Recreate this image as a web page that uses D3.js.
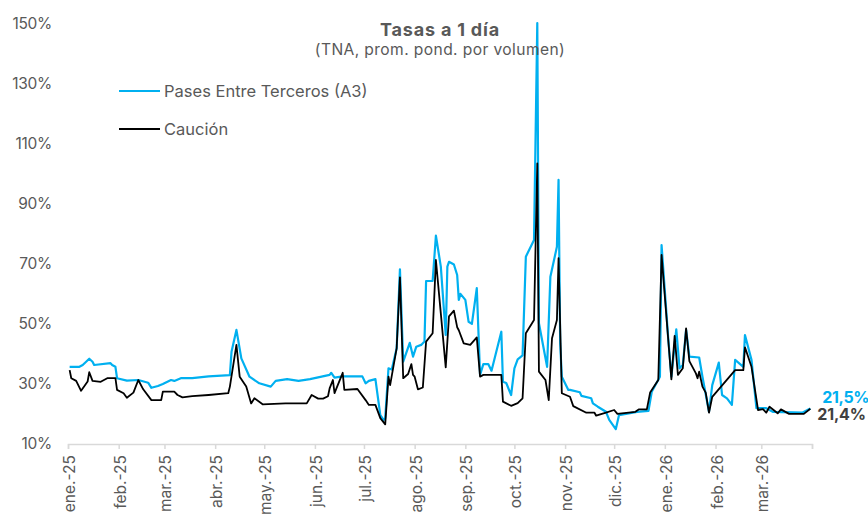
<!DOCTYPE html>
<html>
<head>
<meta charset="utf-8">
<script src="https://cdn.jsdelivr.net/npm/d3@7/dist/d3.min.js"></script>
<style>
  body { margin: 0; background: #fff; }
  svg { display: block; font-family: Inter, "Open Sans", sans-serif; }
</style>
</head>
<body>
<svg id="chart"></svg>
<script>
/**
 * Tasas a 1 dia - pases vs caucion
 */
const width = 868;
const height = 515;

const title = 'Tasas a 1 día';
const subtitle = '(TNA, prom. pond. por volumen)';
const seriesNames = ['Pases Entre Terceros (A3)', 'Caución'];
const colors = ['#00b0f0', '#000000'];

const monthLabels = ['ene.-25', 'feb.-25', 'mar.-25', 'abr.-25', 'may.-25', 'jun.-25', 'jul.-25',
    'ago.-25', 'sep.-25', 'oct.-25', 'nov.-25', 'dic.-25', 'ene.-26', 'feb.-26', 'mar.-26'];
const yTicks = [10, 30, 50, 70, 90, 110, 130, 150];

// Pases Entre Terceros (A3)
const pasesDates = ['2025-01-02', '2025-01-08', '2025-01-10', '2025-01-14', '2025-01-16', '2025-01-17',
    '2025-01-27', '2025-01-28', '2025-01-30', '2025-01-31', '2025-02-06', '2025-02-13', '2025-02-19',
    '2025-02-21', '2025-02-25', '2025-02-28', '2025-03-05', '2025-03-07', '2025-03-11', '2025-03-18',
    '2025-03-28', '2025-04-10', '2025-04-11', '2025-04-14', '2025-04-17', '2025-04-22', '2025-04-28',
    '2025-05-05', '2025-05-08', '2025-05-15', '2025-05-22', '2025-05-29', '2025-06-10', '2025-06-11',
    '2025-06-13', '2025-06-18', '2025-06-30', '2025-07-02', '2025-07-04', '2025-07-08', '2025-07-11',
    '2025-07-13', '2025-07-14', '2025-07-16', '2025-07-18', '2025-07-21', '2025-07-23', '2025-07-25',
    '2025-07-29', '2025-07-31', '2025-08-02', '2025-08-05', '2025-08-07', '2025-08-08', '2025-08-12',
    '2025-08-14', '2025-08-17', '2025-08-20', '2025-08-21', '2025-08-22', '2025-08-25', '2025-08-27',
    '2025-08-28', '2025-08-29', '2025-09-01', '2025-09-03', '2025-09-05', '2025-09-08', '2025-09-10',
    '2025-09-12', '2025-09-15', '2025-09-17', '2025-09-23', '2025-09-24', '2025-09-26', '2025-09-29',
    '2025-10-01', '2025-10-03', '2025-10-06', '2025-10-08', '2025-10-13', '2025-10-15', '2025-10-16',
    '2025-10-21', '2025-10-23', '2025-10-27', '2025-10-28', '2025-10-29', '2025-10-30', '2025-11-03',
    '2025-11-04', '2025-11-10', '2025-11-11', '2025-11-17', '2025-11-18', '2025-11-21', '2025-11-26',
    '2025-11-28', '2025-12-02', '2025-12-04', '2025-12-15', '2025-12-22', '2025-12-24', '2025-12-29',
    '2025-12-30', '2026-01-03', '2026-01-05', '2026-01-08', '2026-01-10', '2026-01-12', '2026-01-14',
    '2026-01-16', '2026-01-22', '2026-01-24', '2026-01-28', '2026-01-30', '2026-02-03', '2026-02-05',
    '2026-02-08', '2026-02-11', '2026-02-13', '2026-02-18', '2026-02-19', '2026-02-23', '2026-02-26',
    '2026-03-04', '2026-03-08', '2026-03-26', '2026-03-31'];
const pasesValues = [35.4, 35.4, 36.0, 38.1, 37.1, 36.0,
    36.6, 36.0, 35.4, 31.6, 30.8, 31.0, 30.1,
    28.4, 29.0, 29.7, 31.0, 30.7, 31.6, 31.6,
    32.2, 32.6, 40.4, 47.7, 38.2, 32.1, 29.9,
    28.8, 30.7, 31.3, 30.7, 31.3, 32.7, 33.4,
    31.8, 32.2, 32.2, 29.9, 30.7, 31.3, 19.3,
    17.7, 18.3, 34.9, 34.5, 41.6, 67.9, 37.1,
    43.4, 38.8, 42.1, 42.7, 43.8, 64.0, 64.0,
    79.1, 68.8, 46.0, 68.8, 70.4, 69.5, 66.0,
    57.7, 59.7, 57.7, 50.4, 49.7, 61.6, 32.7,
    36.3, 36.3, 34.1, 47.1, 30.4, 30.0, 26.0,
    34.9, 37.9, 39.2, 72.1, 77.7, 150.0, 49.9,
    35.4, 65.4, 75.4, 97.7, 43.2, 32.1, 27.7,
    27.7, 26.9, 25.7, 24.9, 23.2, 22.1, 20.4,
    17.7, 14.6, 19.3, 20.4, 20.7, 27.1, 32.1,
    76.0, 45.4, 32.1, 47.9, 34.9, 36.0, 47.7,
    38.8, 38.5, 32.1, 20.4, 29.3, 36.8, 26.0,
    24.9, 22.7, 37.7, 35.4, 46.0, 37.7, 21.6,
    21.6, 20.4, 20.1, 21.5];

// Caucion
const caucionDates = ['2025-01-02', '2025-01-03', '2025-01-06', '2025-01-09', '2025-01-13', '2025-01-14',
    '2025-01-16', '2025-01-21', '2025-01-25', '2025-01-30', '2025-01-31', '2025-02-04', '2025-02-06',
    '2025-02-10', '2025-02-13', '2025-02-16', '2025-02-21', '2025-02-27', '2025-02-28', '2025-03-07',
    '2025-03-09', '2025-03-12', '2025-03-18', '2025-03-28', '2025-04-09', '2025-04-10', '2025-04-14',
    '2025-04-16', '2025-04-20', '2025-04-23', '2025-04-25', '2025-04-30', '2025-05-14', '2025-05-27',
    '2025-05-30', '2025-06-03', '2025-06-06', '2025-06-09', '2025-06-10', '2025-06-12', '2025-06-13',
    '2025-06-18', '2025-06-19', '2025-06-27', '2025-07-02', '2025-07-04', '2025-07-08', '2025-07-11',
    '2025-07-14', '2025-07-16', '2025-07-17', '2025-07-21', '2025-07-23', '2025-07-25', '2025-07-28',
    '2025-07-30', '2025-07-31', '2025-08-01', '2025-08-03', '2025-08-06', '2025-08-08', '2025-08-12',
    '2025-08-14', '2025-08-17', '2025-08-20', '2025-08-22', '2025-08-25', '2025-08-27', '2025-08-28',
    '2025-08-31', '2025-09-04', '2025-09-08', '2025-09-10', '2025-09-12', '2025-09-23', '2025-09-24',
    '2025-09-29', '2025-10-03', '2025-10-06', '2025-10-08', '2025-10-13', '2025-10-15', '2025-10-16',
    '2025-10-20', '2025-10-22', '2025-10-24', '2025-10-27', '2025-10-28', '2025-10-30', '2025-11-04',
    '2025-11-06', '2025-11-14', '2025-11-19', '2025-11-20', '2025-11-26', '2025-12-01', '2025-12-03',
    '2025-12-14', '2025-12-16', '2025-12-21', '2025-12-23', '2025-12-28', '2025-12-30', '2026-01-05',
    '2026-01-07', '2026-01-09', '2026-01-12', '2026-01-14', '2026-01-16', '2026-01-20', '2026-01-21',
    '2026-01-22', '2026-01-24', '2026-01-26', '2026-01-28', '2026-01-30', '2026-02-13', '2026-02-18',
    '2026-02-19', '2026-02-23', '2026-02-27', '2026-03-02', '2026-03-04', '2026-03-06', '2026-03-11',
    '2026-03-13', '2026-03-18', '2026-03-27', '2026-03-31'];
const caucionValues = [34.3, 31.6, 30.7, 27.4, 30.5, 33.6,
    30.7, 30.4, 31.6, 31.6, 27.7, 26.6, 25.1,
    26.8, 31.0, 27.9, 24.3, 24.3, 27.1, 27.1,
    26.0, 25.2, 25.6, 26.0, 26.6, 28.8, 42.7,
    32.1, 28.8, 23.2, 24.9, 22.9, 23.2, 23.2,
    26.0, 24.8, 24.8, 25.6, 28.2, 31.0, 26.6,
    33.4, 27.7, 28.0, 24.3, 22.7, 22.7, 18.3,
    16.2, 32.1, 29.3, 41.6, 65.2, 31.6, 33.0,
    36.3, 32.7, 32.1, 27.9, 28.5, 43.8, 46.6,
    71.0, 53.2, 35.2, 52.2, 54.1, 48.6, 47.6,
    43.2, 42.7, 45.2, 32.1, 32.7, 32.7, 23.8,
    22.4, 23.3, 24.9, 46.6, 51.0, 103.2, 33.8,
    31.0, 24.3, 44.9, 51.0, 71.6, 26.6, 25.4,
    22.3, 20.1, 20.1, 19.1, 20.1, 21.0, 19.7,
    20.4, 21.2, 21.2, 26.8, 31.0, 72.7, 31.2,
    45.7, 32.7, 34.9, 48.2, 37.3, 33.2, 31.6,
    33.8, 28.8, 26.8, 20.1, 25.4, 34.3, 34.3,
    41.9, 35.4, 21.0, 21.3, 20.1, 22.1, 19.9,
    21.2, 19.7, 19.7, 21.4];

const endLabels = ['21,5%', '21,4%'];

const parseDate = d3.timeParse('%Y-%m-%d');
const series = [
    pasesDates.map((d, i) => ({ date: parseDate(d), value: pasesValues[i] })),
    caucionDates.map((d, i) => ({ date: parseDate(d), value: caucionValues[i] })),
];

const svg = d3
    .select('#chart')
    .attr('width', width)
    .attr('height', height);

const x = d3
    .scaleTime()
    .domain([new Date(2025, 0, 1), new Date(2026, 3, 1)])
    .range([68, 812]);

const y = d3
    .scaleLinear()
    .domain([10, 150])
    .range([443, 23]);

const textColor = '#595959';

// y labels (no axis line)
svg.selectAll('.ylab')
    .data(yTicks)
    .enter()
    .append('text')
    .attr('class', 'ylab')
    .attr('x', 52)
    .attr('y', (d) => y(d))
    .attr('dy', '0.36em')
    .attr('text-anchor', 'end')
    .style('font-size', '15.5px')
    .style('letter-spacing', '-0.3px')
    .style('fill', textColor)
    .text((d) => d + '%');

// x axis
const monthTicks = d3.timeMonth.range(new Date(2025, 0, 1), new Date(2026, 3, 2));
const xAxis = svg
    .append('g')
    .attr('transform', 'translate(0,' + 444 + ')')
    .call(d3.axisBottom(x).tickValues(monthTicks).tickSize(5).tickFormat(''));
xAxis.select('.domain').attr('stroke', '#d9d9d9').attr('stroke-width', 1.5);
xAxis.selectAll('.tick line').attr('stroke', '#d9d9d9').attr('stroke-width', 1.5);

svg.selectAll('.xlab')
    .data(monthLabels)
    .enter()
    .append('text')
    .attr('class', 'xlab')
    .attr('transform', (d, i) => 'translate(' + (x(monthTicks[i]) + 7) + ',455) rotate(-90)')
    .attr('text-anchor', 'end')
    .style('font-size', '15.5px')
    .style('fill', textColor)
    .text((d) => d);

// lines
const line = d3
    .line()
    .x((d) => x(d.date))
    .y((d) => y(d.value));

svg.selectAll('.series')
    .data(series)
    .enter()
    .append('path')
    .attr('class', 'series')
    .attr('d', line)
    .style('fill', 'none')
    .style('stroke', (d, i) => colors[i])
    .style('stroke-width', (d, i) => (i === 0 ? 2.2 : 1.8))
    .style('stroke-linejoin', 'round');

// title
svg.append('text')
    .attr('x', 440)
    .attr('y', 36)
    .attr('text-anchor', 'middle')
    .style('font-size', '18px')
    .style('font-weight', 'bold')
    .style('letter-spacing', '0.8px')
    .style('fill', textColor)
    .text(title);

svg.append('text')
    .attr('x', 440)
    .attr('y', 55)
    .attr('text-anchor', 'middle')
    .style('font-size', '15.6px')
    .style('letter-spacing', '0.4px')
    .style('fill', textColor)
    .text(subtitle);

// legend
const legendY = [91, 129];
seriesNames.forEach((name, i) => {
    svg.append('line')
        .attr('x1', 119)
        .attr('x2', 160)
        .attr('y1', legendY[i])
        .attr('y2', legendY[i])
        .style('stroke', colors[i])
        .style('stroke-width', 2);
    svg.append('text')
        .attr('x', 164)
        .attr('y', legendY[i])
        .attr('dy', '0.36em')
        .style('font-size', '16.5px')
        .style('fill', textColor)
        .text(name);
});

// end labels
const lastP = series[0][series[0].length - 1];
const lastC = series[1][series[1].length - 1];
svg.append('text')
    .attr('x', x(lastP.date) + 12)
    .attr('y', y(lastP.value) - 6)
    .style('font-size', '16px')
    .style('font-weight', 'bold')
    .style('letter-spacing', '-0.4px')
    .style('fill', colors[0])
    .text(endLabels[0]);
svg.append('text')
    .attr('x', x(lastC.date) + 7)
    .attr('y', y(lastC.value) + 11)
    .style('font-size', '16px')
    .style('font-weight', 'bold')
    .style('letter-spacing', '-0.2px')
    .style('fill', '#404040')
    .text(endLabels[1]);
</script>
</body>
</html>
